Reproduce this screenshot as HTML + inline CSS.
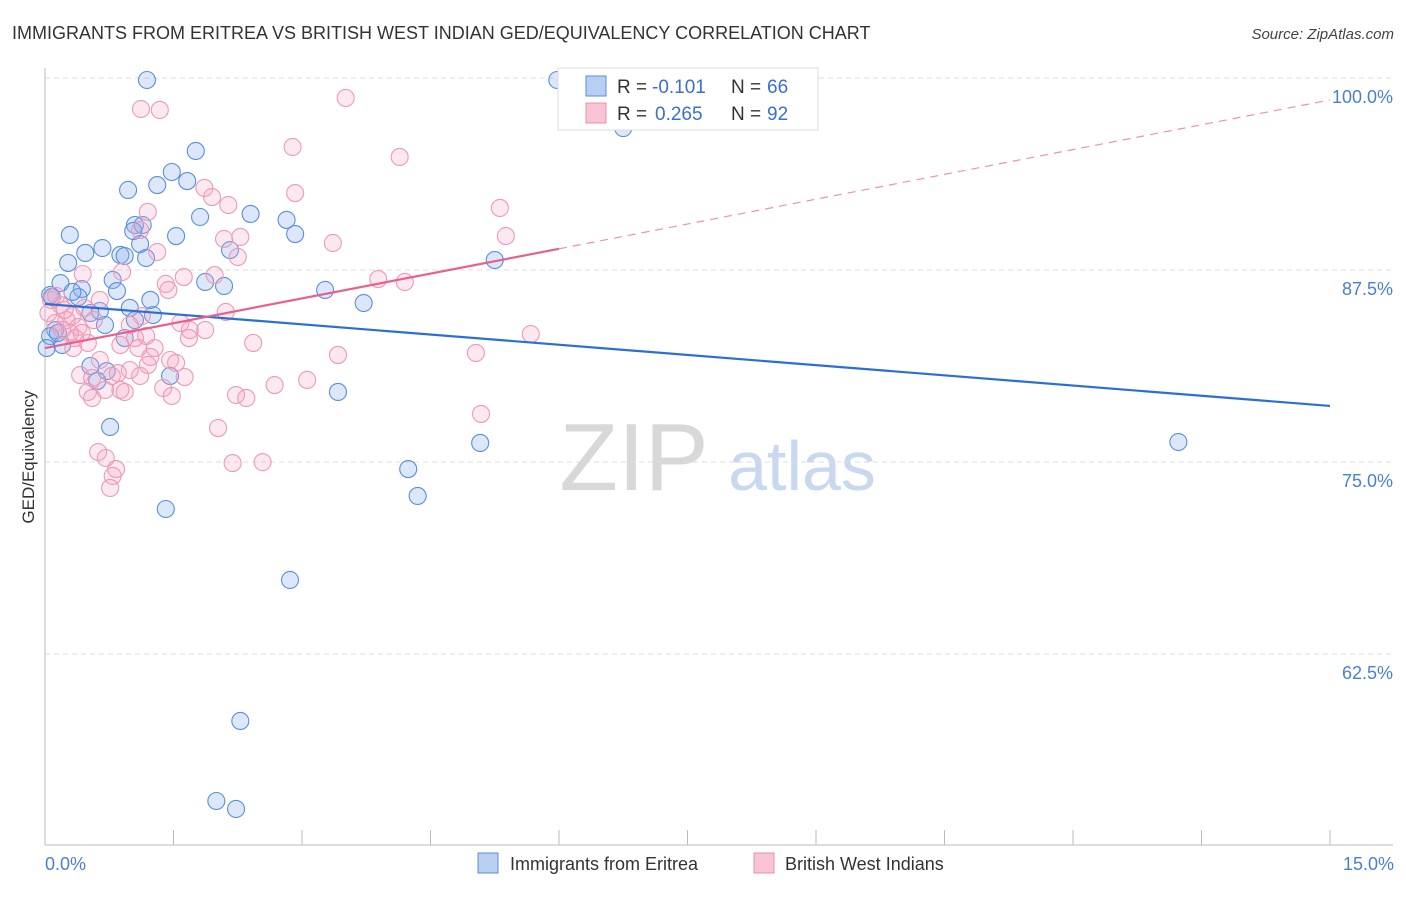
<!DOCTYPE html>
<html><head><meta charset="utf-8"><style>
body{margin:0;background:#fff;font-family:"Liberation Sans",sans-serif;}
svg text{font-family:"Liberation Sans",sans-serif;}
</style></head><body>
<svg id="chart" width="1406" height="892" xmlns="http://www.w3.org/2000/svg">
<text x="12" y="39" font-size="18" fill="#333">IMMIGRANTS FROM ERITREA VS BRITISH WEST INDIAN GED/EQUIVALENCY CORRELATION CHART</text>
<text x="1394" y="39" font-size="15" fill="#444" text-anchor="end" font-style="italic">Source: ZipAtlas.com</text>
<g>
<text x="634" y="490" font-size="96" fill="#d8d8d8" text-anchor="middle" font-family="Liberation Serif">ZIP</text>
<text x="802" y="490" font-size="70" fill="#c8d8f0" text-anchor="middle">atlas</text>
</g>
<g id="grid"></g>
<g id="axes"></g>
<g id="points"></g>
<g id="trends"></g>
<text transform="translate(34,457) rotate(-90)" font-size="17" fill="#333" text-anchor="middle">GED/Equivalency</text>
<text x="45" y="870" font-size="18" fill="#4a7fd4">0.0%</text>
<text x="1394" y="870" font-size="18" fill="#4a7fd4" text-anchor="end">15.0%</text>
<g>
<rect x="558" y="68" width="260" height="62" fill="#fff" stroke="#ddd"/>
<rect x="586" y="76" width="20" height="20" fill="#b8cff2" stroke="#5a8fdc"/>
<rect x="586" y="103" width="20" height="20" fill="#f8c4d4" stroke="#e890ab"/>
<text x="617" y="93" font-size="19" fill="#333">R =</text>
<text x="652" y="93" font-size="19" fill="#3a6fd0">-0.101</text>
<text x="731" y="93" font-size="19" fill="#333">N =</text>
<text x="767" y="93" font-size="19" fill="#3a6fd0">66</text>
<text x="617" y="120" font-size="19" fill="#333">R =</text>
<text x="655" y="120" font-size="19" fill="#3a6fd0">0.265</text>
<text x="731" y="120" font-size="19" fill="#333">N =</text>
<text x="767" y="120" font-size="19" fill="#3a6fd0">92</text>
</g>
<g>
<rect x="478" y="853" width="20" height="20" fill="#b8cff2" stroke="#5a8fdc"/>
<text x="510" y="870" font-size="18" fill="#333">Immigrants from Eritrea</text>
<rect x="754" y="853" width="20" height="20" fill="#f8c4d4" stroke="#e890ab"/>
<text x="785" y="870" font-size="18" fill="#333">British West Indians</text>
</g>
</svg>
<script>
const yTicks=[100,87.5,75,62.5];
const yTickLabels=["100.0%","87.5%","75.0%","62.5%"];
const xTicks=[0,1.5,3,4.5,6,7.5,9,10.5,12,13.5,15];
const blueX=[1.19,5.98,6.75,1.76,1.48,1.66,1.31,0.97,1.81,2.40,2.82,2.92,1.05,1.14,0.29,1.53,1.11,0.67,0.47,0.88,0.93,1.18,2.16,0.27,5.25,0.79,1.87,2.09,3.27,0.43,0.84,0.18,0.06,0.39,3.72,0.99,0.64,0.53,1.26,1.05,0.70,0.12,0.06,0.20,0.02,0.93,0.72,0.53,0.61,1.46,3.42,0.76,5.08,4.24,4.35,1.41,13.23,2.86,2.28,2.00,2.23,0.15,0.08,0.32,1.03,1.23];
const blueY=[99.87,99.87,96.74,95.25,93.88,93.29,93.03,92.71,90.95,91.15,90.76,89.84,90.43,90.43,89.78,89.71,89.19,88.93,88.61,88.48,88.41,88.28,88.80,87.96,88.15,86.85,86.72,86.46,86.20,86.26,86.13,86.65,85.87,85.74,85.35,85.03,84.83,84.70,84.57,84.24,83.92,83.59,83.20,82.62,82.42,83.07,80.92,81.25,80.27,80.60,79.56,77.28,76.24,74.54,72.79,71.94,76.30,67.32,58.14,52.93,52.41,83.40,85.74,86.07,90.04,85.55];
const pinkX=[1.12,1.34,3.51,2.89,4.14,1.86,1.95,2.92,2.14,1.20,5.31,1.11,2.09,2.28,3.36,5.38,2.25,1.31,0.90,0.44,1.62,3.89,4.20,1.98,1.41,1.44,2.11,0.07,0.18,0.04,0.25,0.32,0.39,0.12,0.20,0.29,0.50,0.33,1.58,1.69,1.87,0.99,1.18,1.05,1.68,2.43,5.67,3.42,5.03,0.64,1.23,1.46,1.28,0.99,0.85,1.53,1.20,1.11,0.41,0.55,0.50,0.55,0.70,0.78,0.88,0.93,1.38,1.48,1.63,2.23,2.35,2.68,3.06,5.09,2.02,0.62,0.71,0.83,0.79,0.76,2.19,2.54,0.23,0.46,0.64,0.13,1.13,0.57,1.09,0.35,0.43,0.88];
const pinkY=[97.98,97.92,98.70,95.51,94.86,92.84,92.25,92.51,91.73,91.28,91.54,90.10,89.52,89.65,89.26,89.71,88.35,88.67,87.37,87.24,87.04,86.91,86.72,87.17,86.59,86.20,84.77,85.55,85.22,84.70,84.24,84.50,83.79,84.05,83.59,83.40,82.75,82.42,84.05,83.59,83.59,83.92,83.20,83.07,83.07,82.75,83.33,81.97,82.10,81.64,81.84,81.64,82.42,80.99,80.79,81.45,81.32,80.60,80.66,80.47,79.56,79.17,79.69,80.60,79.69,79.56,79.82,79.30,80.53,79.36,79.17,80.01,80.34,78.13,77.21,75.65,75.26,74.54,74.09,73.31,74.93,74.99,84.90,85.03,85.55,85.81,84.50,84.24,82.42,83.07,83.40,82.62];
const blueTrend=[85.29,78.65];
const pinkTrend=[82.42,98.57];
const pinkSolidEnd=6.0;
const NS='http://www.w3.org/2000/svg';
function sx(v){return 45+v/15*1285;}
function sy(v){return 78+(100-v)/12.5*192;}
function mk(tag,attrs,parent){const e=document.createElementNS(NS,tag);for(const k in attrs)e.setAttribute(k,attrs[k]);parent.appendChild(e);return e;}
const grid=document.getElementById('grid'),axes=document.getElementById('axes'),pts=document.getElementById('points'),tr=document.getElementById('trends');
yTicks.forEach((t,i)=>{
  const l=mk('line',{x1:45,x2:1393,y1:sy(t),y2:sy(t),stroke:'#ddd','stroke-dasharray':'5,4'},grid);
  
  
  const tx=mk('text',{x:1393,y:sy(t)+25,'font-size':18,fill:'#4a7fd4','text-anchor':'end'},grid);
  tx.textContent=yTickLabels[i];
  
  
});
const ax=mk('line',{x1:45,x2:45,y1:68,y2:845,stroke:'#bbb'},axes);


const bx=mk('line',{x1:45,x2:1393,y1:845,y2:845,stroke:'#bbb'},axes);


xTicks.forEach(t=>{
  const l=mk('line',{x1:sx(t),x2:sx(t),y1:830,y2:845,stroke:'#bbb'},axes);
  
  
});
blueX.forEach((v,i)=>{
  const c=mk('circle',{cx:sx(v),cy:sy(blueY[i]),r:8.5,fill:'rgba(140,178,238,0.3)',stroke:'#5a8fdc','stroke-width':1.1},pts);
  
  
});
pinkX.forEach((v,i)=>{
  const c=mk('circle',{cx:sx(v),cy:sy(pinkY[i]),r:8.5,fill:'rgba(245,165,195,0.25)',stroke:'#ee9ab5','stroke-width':1.1},pts);
  
  
});
const bl=mk('line',{x1:sx(0),y1:sy(blueTrend[0]),x2:sx(15),y2:sy(blueTrend[1]),stroke:'#2a6fd6','stroke-width':2.2},tr);


const py=x=>pinkTrend[0]+(pinkTrend[1]-pinkTrend[0])*x/15;
const ps=mk('line',{x1:sx(0),y1:sy(py(0)),x2:sx(pinkSolidEnd),y2:sy(py(pinkSolidEnd)),stroke:'#e8608c','stroke-width':2.2},tr);


const pd=mk('line',{x1:sx(pinkSolidEnd),y1:sy(py(pinkSolidEnd)),x2:sx(15),y2:sy(py(15)),stroke:'#eb94b0','stroke-width':1.2,'stroke-dasharray':'8,6'},tr);


</script>
</body></html>
